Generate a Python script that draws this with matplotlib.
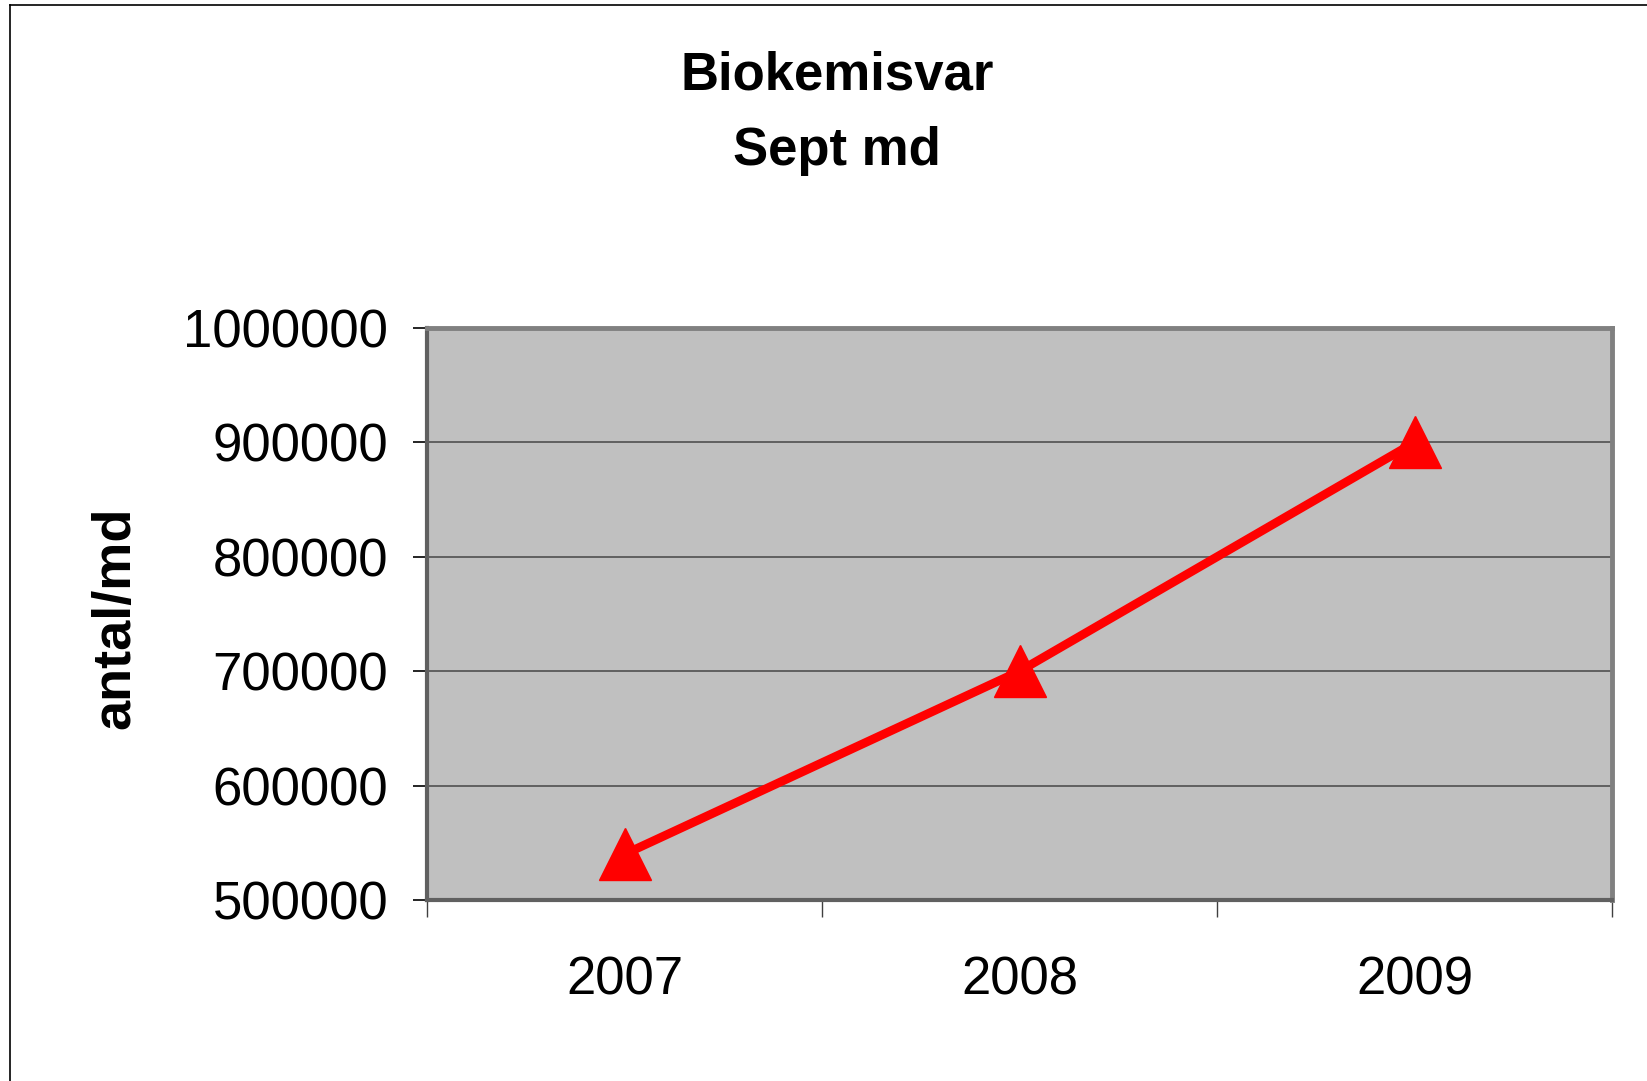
import matplotlib.pyplot as plt
from matplotlib.lines import Line2D

plt.rcParams['font.family'] = ['Liberation Sans', 'DejaVu Sans']

# data
years = ['2007', '2008', '2009']
antal = [540000, 700000, 900000]
y_ticks = [500000, 600000, 700000, 800000, 900000, 1000000]

W, H = 1647, 1081
fig = plt.figure(figsize=(W / 100, H / 100), dpi=100)

# outer frame (only left and top edges visible)
fig.add_artist(Line2D([10 / W, 10 / W], [0, 1 - 5 / H], color='black', lw=1.2))
fig.add_artist(Line2D([10 / W, 1], [1 - 5 / H, 1 - 5 / H], color='black', lw=1.2))

ax = fig.add_axes([427 / W, 181 / H, 1185 / W, 572 / H])
ax.set_facecolor('#C0C0C0')

x = list(range(len(years)))
ax.plot(x, antal, color='#FF0000', lw=6.3, marker='^', markersize=38,
        markerfacecolor='#FF0000', markeredgecolor='#FF0000', zorder=3)

ax.set_xlim(-0.5, len(years) - 0.5)
ax.set_ylim(500000, 1000000)

ax.set_yticks(y_ticks)
ax.set_yticklabels([str(v) for v in y_ticks], fontsize=38)
ax.tick_params(axis='y', direction='out', length=10, width=1.2, color='black', pad=18)
ax.yaxis.grid(True, color='#505050', lw=1.2)
ax.set_axisbelow(True)

# category boundaries get ticks, centres get labels
ax.set_xticks([i - 0.5 for i in range(len(years) + 1)])
ax.set_xticklabels([''] * (len(years) + 1))
ax.tick_params(axis='x', which='major', direction='out', length=12, width=1.0, color='#404040')
ax.set_xticks(x, minor=True)
ax.set_xticklabels(years, minor=True, fontsize=38)
ax.tick_params(axis='x', which='minor', length=0, pad=40)

for side in ['top', 'right']:
    ax.spines[side].set_color('#808080')
    ax.spines[side].set_linewidth(3.5)
for side in ['left', 'bottom']:
    ax.spines[side].set_color('#606060')
    ax.spines[side].set_linewidth(3)

fig.text(837 / W, 1 - 90 / H, 'Biokemisvar', ha='center', va='baseline',
         fontsize=38, fontweight='bold')
fig.text(837 / W, 1 - 165 / H, 'Sept md', ha='center', va='baseline',
         fontsize=38, fontweight='bold')
fig.text(115 / W, 1 - 618 / H, 'antal/md', rotation=90, ha='center', va='center',
         fontsize=39, fontweight='bold')

fig.savefig('out.png', dpi=100)
